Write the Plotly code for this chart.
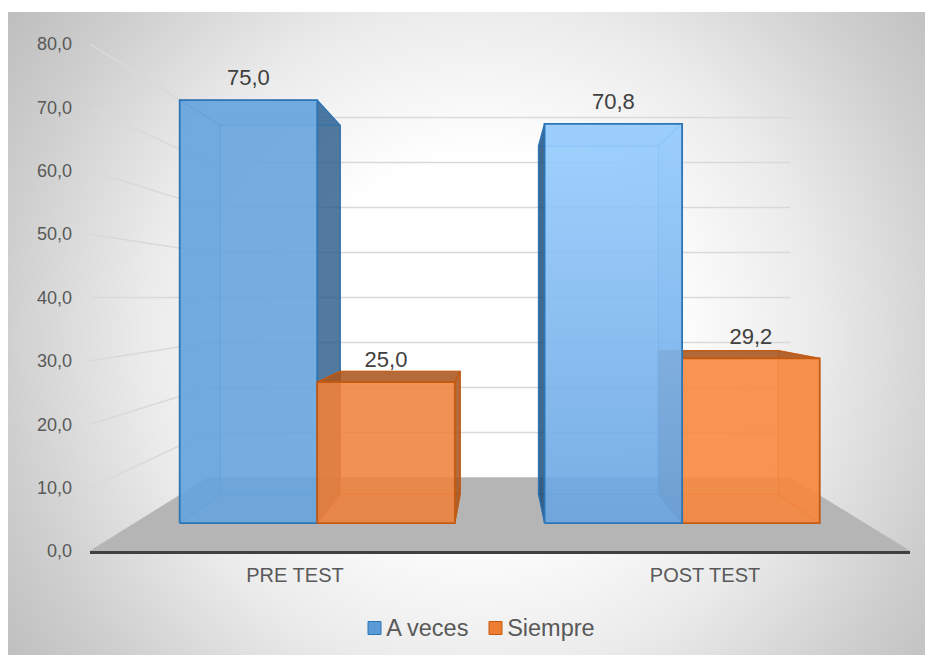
import plotly.graph_objects as go

CATEGORIES = ["PRE TEST", "POST TEST"]
A_VECES = [75.0, 70.8]
SIEMPRE = [25.0, 29.2]
VALUE_LABELS_A = ["75,0", "70,8"]
VALUE_LABELS_S = ["25,0", "29,2"]
Y_TICKS = [0, 10, 20, 30, 40, 50, 60, 70, 80]

W, H = 933, 655
FONT = "Liberation Sans"

# perspective settings, the plot area is the front plane of the 3D box
CX, CY = 0.493, 40
S_FRONT, S_REAR = 0.89, 0.776
S_WALL = 0.71
BAR_W = 0.377


def proj(u, v, s):
    return CX + (u - CX) * s, CY + (v - CY) * s


def face(fig, pts, fill, line, width=1.5, gradient=None):
    xs = [p[0] for p in pts] + [pts[0][0]]
    ys = [p[1] for p in pts] + [pts[0][1]]
    fig.add_trace(go.Scatter(
        x=xs, y=ys, mode="lines", fill="toself", fillcolor=fill,
        fillgradient=gradient,
        line=dict(color=line, width=width), xaxis="x2", yaxis="y2",
        showlegend=False, hoverinfo="skip",
    ))


def bar(fig, xl, xr, v, fill, dark, line, soft, edge, gradient=None):
    def fr(u, h):
        return proj(u, h, S_FRONT)

    def re(u, h):
        return proj(u, h, S_REAR)

    centre = (xl + xr) / 2
    right_out = centre < CX
    top_out = v < CY
    face(fig, [re(xl, 0), re(xr, 0), re(xr, v), re(xl, v)], "rgba(0,0,0,0.02)", edge, 1.2)
    face(fig, [fr(xl, 0), fr(xr, 0), re(xr, 0), re(xl, 0)], "rgba(0,0,0,0.04)", edge, 1.2)
    face(fig, [fr(xl, 0), re(xl, 0), re(xl, v), fr(xl, v)],
         soft if right_out else dark, edge if right_out else line, 1.2)
    face(fig, [fr(xr, 0), re(xr, 0), re(xr, v), fr(xr, v)],
         dark if right_out else soft, line if right_out else edge, 1.2)
    face(fig, [fr(xl, v), fr(xr, v), re(xr, v), re(xl, v)],
         dark if top_out else soft, line if top_out else edge, 1.2)
    face(fig, [fr(xl, 0), fr(xr, 0), fr(xr, v), fr(xl, v)], fill, line, 1.8, gradient)


fig = go.Figure()

# chart background, radial gradient clipped to the chart area
GX, GY, GR = 480, 340, 610
fig.add_trace(go.Scatter(
    x=[GX - GR, GX + GR, GX + GR, GX - GR, GX - GR],
    y=[GY - GR, GY - GR, GY + GR, GY + GR, GY - GR],
    mode="lines", fill="toself", line=dict(width=0),
    fillgradient=dict(type="radial", colorscale=[
        [0, "#ffffff"], [0.3, "#ffffff"], [0.55, "#ebebeb"], [0.78, "#cfcfcf"], [1, "#b8b8b8"],
    ]),
    xaxis="x", yaxis="y", showlegend=False, hoverinfo="skip",
))

# floor
face(fig, [proj(-0.5, 0, 1), proj(1.5, 0, 1), proj(1.5, 0, S_WALL), proj(-0.5, 0, S_WALL)],
     "#b5b5b5", "#b5b5b5", 0.5)

# gridlines on the left and back walls
for t in Y_TICKS[1:]:
    a = proj(-0.5, t, 1)
    b = proj(-0.5, t, S_WALL)
    c = proj(1.5, t, S_WALL)
    fig.add_trace(go.Scatter(
        x=[a[0], b[0], c[0]], y=[a[1], b[1], c[1]], mode="lines",
        line=dict(color="#d9d9d9", width=1.5), xaxis="x2", yaxis="y2",
        showlegend=False, hoverinfo="skip",
    ))

BLUE = ("rgba(103,165,222,0.9)", "rgba(40,90,135,0.8)", "#2e75b6", "rgba(46,117,182,0.2)", "rgba(46,117,182,0.45)")
ORANGE = ("rgba(240,130,60,0.88)", "rgba(170,85,30,0.88)", "#c55a11", "rgba(197,90,17,0.22)", "rgba(197,90,17,0.45)")
BLUE_POST = ("rgba(120,185,250,0.85)", "rgba(30,80,125,0.85)", "#2e75b6", "rgba(46,117,182,0.2)", "rgba(46,117,182,0.45)")
ORANGE_POST = ("rgba(248,135,60,0.88)", "rgba(170,85,30,0.88)", "#c55a11", "rgba(197,90,17,0.22)", "rgba(197,90,17,0.45)")
POST_SHADE = dict(type="vertical", colorscale=[
    [0, "rgba(105,165,225,0.9)"], [1, "rgba(150,205,255,0.9)"],
])

# far to near: the bars nearest the middle of the view go last
bar(fig, 0 - BAR_W, 0, A_VECES[0], *BLUE)
bar(fig, 0, 0 + BAR_W, SIEMPRE[0], *ORANGE)
bar(fig, 1, 1 + BAR_W, SIEMPRE[1], *ORANGE_POST)
bar(fig, 1 - BAR_W, 1, A_VECES[1], *BLUE_POST, gradient=POST_SHADE)

# value labels sit on the front top edge of each bar
for i in range(2):
    for u, v, lab in [(i - BAR_W / 2, A_VECES[i], VALUE_LABELS_A[i]),
                      (i + BAR_W / 2, SIEMPRE[i], VALUE_LABELS_S[i])]:
        p = proj(u, v, S_FRONT)
        fig.add_trace(go.Scatter(
            x=[p[0]], y=[p[1]], mode="markers+text", text=[lab], textposition="top center",
            marker=dict(size=13, opacity=0),
            textfont=dict(family=FONT, size=22, color="#404040"),
            xaxis="x2", yaxis="y2", showlegend=False, hoverinfo="skip",
        ))

# legend, drawn by hand for the tight marker and text spacing
for name, px, color, edge in [("A veces", 374.5, "#5b9bd5", "#2e75b6"), ("Siempre", 495.5, "#ed7d31", "#c55a11")]:
    fig.add_trace(go.Scatter(
        x=[px], y=[628], mode="markers", name=name,
        marker=dict(symbol="square", size=13, color=color, line=dict(color=edge, width=1)),
        xaxis="x", yaxis="y", showlegend=False,
    ))
    fig.add_trace(go.Scatter(
        x=[px], y=[630], mode="markers+text", text=[name], textposition="middle right",
        marker=dict(size=17, opacity=0),
        textfont=dict(family=FONT, size=23.5, color="#595959"),
        xaxis="x", yaxis="y", showlegend=False, hoverinfo="skip",
    ))

fig.update_layout(
    width=W, height=H,
    margin=dict(l=0, r=0, t=0, b=0),
    paper_bgcolor="white",
    plot_bgcolor="rgba(0,0,0,0)",
    separators=",.",
    showlegend=False,
    font=dict(family=FONT, color="#595959"),
    xaxis=dict(domain=[8 / W, 925 / W], range=[8, 925], visible=False, automargin=False),
    yaxis=dict(domain=[0, 1 - 12 / H], range=[H, 12], visible=False, automargin=False),
    xaxis2=dict(
        domain=[90 / W, 910 / W], range=[-0.5, 1.5], anchor="y2", automargin=False,
        tickmode="array", tickvals=[0, 1], ticktext=CATEGORIES,
        tickfont=dict(family=FONT, size=20, color="#595959"),
        showgrid=False, zeroline=False, showline=True, linecolor="#404040", linewidth=3,
        ticklen=0, ticklabelstandoff=4,
    ),
    yaxis2=dict(
        domain=[1 - 551 / H, 1 - 44 / H], range=[0, 80], anchor="x2", automargin=False,
        tickmode="array", tickvals=Y_TICKS, tickformat=".1f",
        tickfont=dict(family=FONT, size=18, color="#595959"),
        showgrid=False, zeroline=False, showline=False,
        ticklen=0, ticklabelstandoff=17,
    ),
)

# the page body has a default margin that would push the chart off the window
fig.write_html("out.html", config=dict(displayModeBar=False),
               post_script="document.body.style.margin='0';")
